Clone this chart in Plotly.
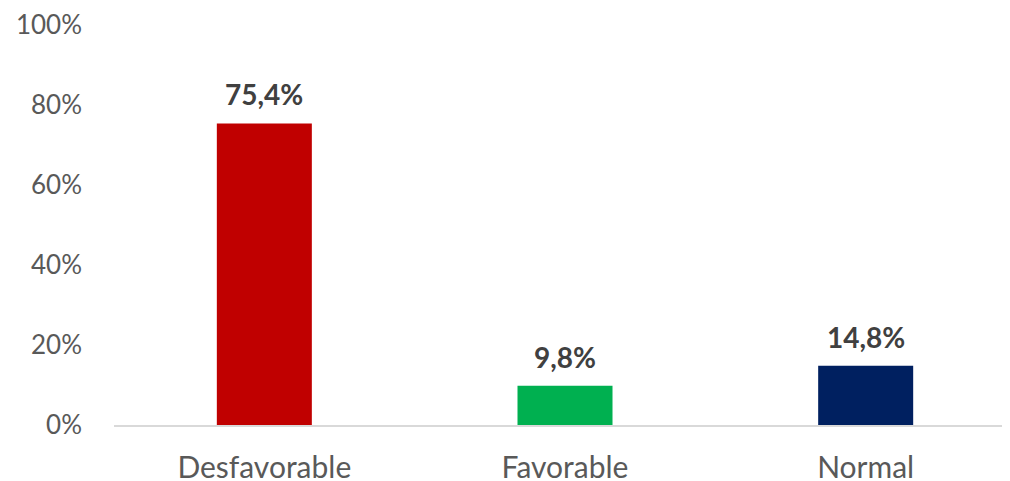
import plotly.graph_objects as go

categorias = ['Desfavorable', 'Favorable', 'Normal']
porcentajes = [75.4, 9.8, 14.8]
colores = ['#C00000', '#00B050', '#002060']
y_ticks = [0, 20, 40, 60, 80, 100]

FONT = 'Lato, "Open Sans", sans-serif'

fig = go.Figure()
fig.add_trace(go.Bar(
    x=categorias,
    y=porcentajes,
    marker=dict(color=colores, line=dict(width=0)),
    width=0.316,
    hoverinfo='skip',
))

# etiquetas sobre cada barra
for cat, val in zip(categorias, porcentajes):
    fig.add_annotation(
        x=cat, y=val,
        text=f'<b>{val:.1f}%</b>'.replace('.', ','),
        showarrow=False,
        yanchor='bottom',
        yshift=10,
        font=dict(family=FONT, size=28, color='#404040'),
    )

# la página tiene 8px de margen en el body
fig.update_layout(
    width=1002,
    height=473,
    margin=dict(l=106, r=0, t=17, b=56),
    plot_bgcolor='white',
    paper_bgcolor='white',
    showlegend=False,
    separators=',.',
    xaxis=dict(
        range=[-0.5, 2.48],
        automargin=False,
        showgrid=False,
        showline=True,
        linecolor='#D9D9D9',
        linewidth=1.5,
        ticks='',
        ticklabelstandoff=15,
        ticklabeloverflow='allow',
        tickfont=dict(family=FONT, size=30, color='#595959'),
    ),
    yaxis=dict(
        range=[0, 100],
        automargin=False,
        tickvals=y_ticks,
        ticktext=[f'{v}%' for v in y_ticks],
        showgrid=False,
        zeroline=False,
        showline=False,
        ticks='',
        ticklabelstandoff=31,
        ticklabeloverflow='allow',
        tickfont=dict(family=FONT, size=26, color='#595959'),
    ),
)

fig.write_html('out.html')
